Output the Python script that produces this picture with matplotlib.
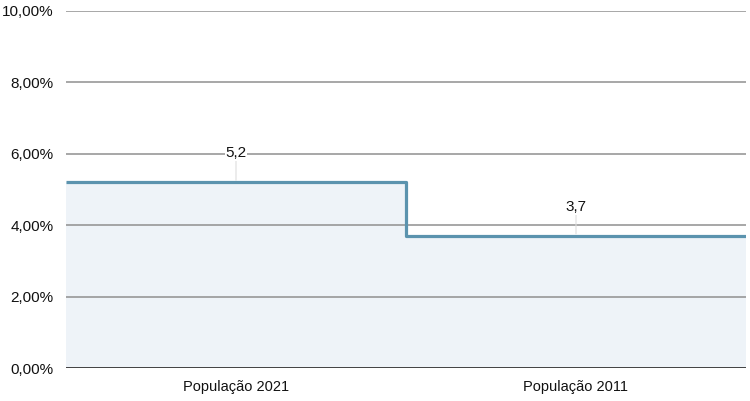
import numpy as np
import matplotlib
matplotlib.use("Agg")
import matplotlib.pyplot as plt
from matplotlib.ticker import FuncFormatter

plt.rcParams['font.family'] = ['Liberation Sans', 'DejaVu Sans']

# data
categories = ['População 2021', 'População 2011']
values = [5.2, 3.7]
y_ticks = [0, 2, 4, 6, 8, 10]

line_color = '#5b93ae'
fill_color = '#eef3f8'

fig = plt.figure(figsize=(7.5, 4.01), dpi=100)
ax = fig.add_axes([66 / 750, 33 / 401, 680 / 750, 357 / 401])

x = np.arange(len(categories))
xs = np.append(x - 0.5, x[-1] + 0.5)
ys = np.append(values, values[-1])

ax.fill_between(xs, ys, 0, step='post', color=fill_color, linewidth=0, zorder=1)
ax.step(xs, ys, where='post', color=line_color, linewidth=2.3,
        solid_joinstyle='round', solid_capstyle='butt', zorder=3)

for i, v in enumerate(values):
    lbl = f"{v:.1f}".replace('.', ',')
    ax.annotate(lbl, xy=(x[i], v), xytext=(0, 21), textcoords='offset points',
                ha='center', va='center', fontsize=11, color='#111111',
                bbox=dict(boxstyle='square,pad=0.05', fc='white', ec='none'),
                arrowprops=dict(arrowstyle='-', color='#dddddd', lw=0.8,
                                shrinkA=0, shrinkB=1.5),
                zorder=4)

ax.set_xlim(-0.5, len(categories) - 0.5)
ax.set_ylim(0, 10)
ax.set_yticks(y_ticks)
ax.yaxis.set_major_formatter(FuncFormatter(lambda v, p: f"{v:.2f}%".replace('.', ',')))
ax.set_xticks(x)
ax.set_xticklabels(categories)

for t in y_ticks[1:]:
    ax.axhline(t, color='#8f8f8f', linewidth=1.1, zorder=2)
ax.axhline(0, color='#333333', linewidth=1.3, zorder=4)

for s in ax.spines.values():
    s.set_visible(False)
ax.tick_params(axis='both', length=0, labelsize=10.5, colors='#111111')
ax.tick_params(axis='y', pad=9, labelsize=11)
ax.tick_params(axis='x', pad=9)

fig.savefig('out.png', dpi=100)
